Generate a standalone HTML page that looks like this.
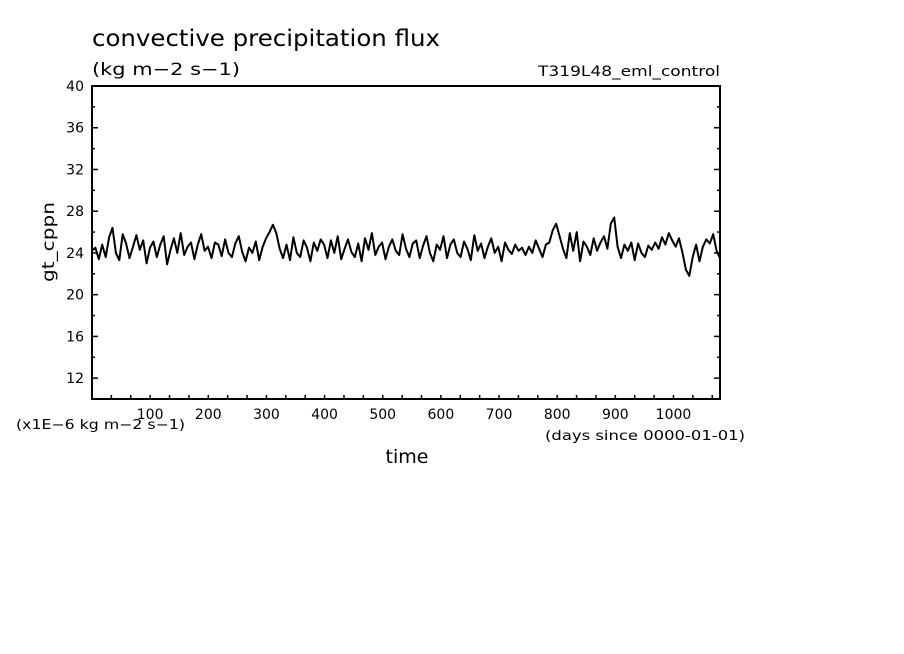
<!DOCTYPE html>
<html><head><meta charset="utf-8"><style>
html,body{margin:0;padding:0;background:#fff;}
svg{display:block;font-family:"DejaVu Sans","Liberation Sans",sans-serif;}
</style></head><body>
<svg id="chart" width="904" height="654" viewBox="0 0 904 654">
<text x="92" y="46" font-size="23" textLength="348" lengthAdjust="spacingAndGlyphs">convective precipitation flux</text>
<text x="92" y="75" font-size="17" textLength="148" lengthAdjust="spacingAndGlyphs">(kg m−2 s−1)</text>
<text x="538" y="76" font-size="14" textLength="182" lengthAdjust="spacingAndGlyphs">T319L48_eml_control</text>
<text transform="translate(54,242) rotate(-90)" font-size="17" text-anchor="middle" textLength="80" lengthAdjust="spacingAndGlyphs">gt_cppn</text>
<text x="407" y="463" font-size="19" text-anchor="middle">time</text>
<text x="16" y="429" font-size="13" textLength="169" lengthAdjust="spacingAndGlyphs">(x1E−6 kg m−2 s−1)</text>
<text x="545" y="440" font-size="13" textLength="200" lengthAdjust="spacingAndGlyphs">(days since 0000-01-01)</text>
<g id="axes"></g>
<path id="series" fill="none" stroke="#000" stroke-width="2" stroke-linejoin="round"/>
<rect x="92" y="86" width="628" height="313" fill="none" stroke="#000" stroke-width="2"/>
</svg>
<script>
const yTicks=[12,16,20,24,28,32,36,40];
const xTicks=[100,200,300,400,500,600,700,800,900,1000];
const values=[24.2,24.5,23.4,24.8,23.6,25.5,26.4,24.0,23.3,25.8,24.9,23.5,24.6,25.7,24.3,25.2,23.0,
24.5,25.1,23.6,24.8,25.6,22.9,24.3,25.4,24.0,25.9,23.8,24.6,25.0,23.4,24.8,25.8,24.2,
24.6,23.5,25.0,24.8,23.7,25.3,24.0,23.6,24.9,25.6,24.1,23.2,24.5,24.0,25.1,23.3,24.6,
25.4,26.0,26.7,25.9,24.4,23.5,24.8,23.3,25.5,24.0,23.6,25.2,24.5,23.2,25.0,24.2,25.3,
24.8,23.5,25.2,24.0,25.6,23.4,24.4,25.3,24.1,23.6,24.9,23.2,25.4,24.3,25.9,23.8,24.6,
25.0,23.4,24.6,25.3,24.2,23.8,25.8,24.4,23.6,24.9,25.2,23.5,24.7,25.6,24.0,23.2,24.8,
24.3,25.6,23.5,24.8,25.3,24.0,23.6,25.1,24.4,23.3,25.7,24.2,24.9,23.5,24.6,25.4,24.0,
24.6,23.2,25.0,24.3,23.9,24.8,24.2,24.5,23.8,24.6,24.0,25.2,24.4,23.6,24.8,25.0,26.2,
26.8,25.6,24.4,23.5,25.9,24.2,26.0,23.2,25.1,24.6,23.8,25.4,24.2,25.0,25.6,24.4,26.8,
27.4,24.6,23.5,24.8,24.2,25.0,23.3,24.9,24.0,23.6,24.7,24.3,25.0,24.4,25.5,24.8,25.9,
25.2,24.6,25.4,24.0,22.4,21.8,23.6,24.8,23.2,24.6,25.3,24.9,25.8,24.2,23.5];
const X0=92,X1=720,Y0=399,Y1=86,XMIN=0,XMAX=1080,YMIN=10,YMAX=40;
function sx(d){return X0+(d-XMIN)/(XMAX-XMIN)*(X1-X0);}
function sy(v){return Y0-(v-YMIN)/(YMAX-YMIN)*(Y0-Y1);}
const NS="http://www.w3.org/2000/svg";
const ax=document.getElementById('axes');
function ln(x1,y1,x2,y2,name){const l=document.createElementNS(NS,'line');
l.setAttribute('x1',x1);l.setAttribute('y1',y1);l.setAttribute('x2',x2);l.setAttribute('y2',y2);
l.setAttribute('stroke','#000');l.setAttribute('stroke-width','1.5');


ax.appendChild(l);}
function tx(x,y,s,anchor,name){const t=document.createElementNS(NS,'text');
t.setAttribute('x',x);t.setAttribute('y',y);t.setAttribute('font-size','14');t.setAttribute('text-anchor',anchor);t.textContent=s;


ax.appendChild(t);}
for(let v=YMIN;v<=YMAX;v+=2){const y=sy(v);const len=(v%4===0)?6:3;
ln(X0,y,X0+len,y,'y-tick');ln(X1-len,y,X1,y,'y-tick');}
yTicks.forEach(v=>tx(84,sy(v)+5,String(v),'end','y-tick-label'));
for(let d=0;d<=XMAX;d+=100/3){const x=sx(d);ln(x,Y0,x,Y0-4,'x-tick');}
xTicks.forEach(d=>tx(sx(d),419,String(d),'middle','x-tick-label'));
const step=(XMAX-XMIN)/(values.length-1);
let p='';values.forEach((v,i)=>{p+=(i?'L':'M')+sx(XMIN+i*step).toFixed(1)+' '+sy(v).toFixed(1);});
document.getElementById('series').setAttribute('d',p);
</script>
</body></html>
